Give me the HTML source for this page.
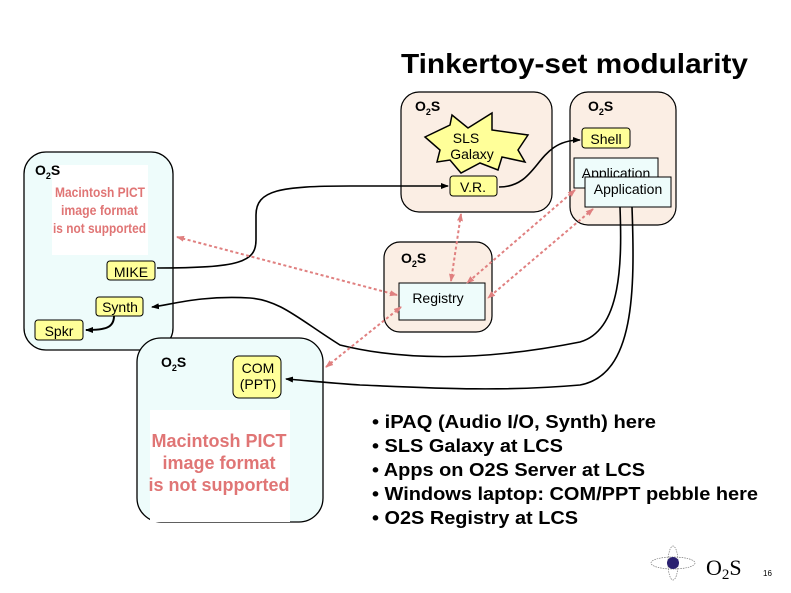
<!DOCTYPE html>
<html><head><meta charset="utf-8"><style>
body{margin:0;background:#fff;}
svg{display:block;font-family:"Liberation Sans",sans-serif;}
</style></head><body>
<svg width="791" height="593" viewBox="0 0 791 593" xmlns="http://www.w3.org/2000/svg">
<defs>
<marker id="a" markerWidth="8" markerHeight="8" refX="7" refY="4" orient="auto" markerUnits="userSpaceOnUse"><path d="M0,1 L8,4 L0,7 Z" fill="#000"/></marker>
<marker id="p" markerWidth="8" markerHeight="8" refX="7" refY="4" orient="auto-start-reverse" markerUnits="userSpaceOnUse"><path d="M0,1 L8,4 L0,7 Z" fill="#e08080"/></marker>
</defs>
<text x="401" y="73" font-size="28" font-weight="bold" textLength="347" lengthAdjust="spacingAndGlyphs">Tinkertoy-set modularity</text>

<rect x="24" y="152" width="149" height="198" rx="22" fill="#eefcfb" stroke="#000" stroke-width="1.3"/>
<rect x="52" y="165" width="96" height="90" fill="#fff"/>
<g font-size="14" font-weight="bold" fill="#e07575">
<text x="55" y="197" textLength="90" lengthAdjust="spacingAndGlyphs">Macintosh PICT</text>
<text x="61" y="215" textLength="77" lengthAdjust="spacingAndGlyphs">image format</text>
<text x="53" y="233" textLength="93" lengthAdjust="spacingAndGlyphs">is not supported</text>
</g>
<text x="35" y="175" font-size="14" font-weight="bold">O<tspan font-size="9" dy="4">2</tspan><tspan dy="-4">S</tspan></text>

<rect x="137" y="338" width="186" height="184" rx="24" fill="#eefcfb" stroke="#000" stroke-width="1.3"/>
<rect x="150" y="410" width="140" height="112" fill="#fff"/>
<text font-size="18" font-weight="bold" fill="#e07575" text-anchor="middle"><tspan x="219" y="447">Macintosh PICT</tspan><tspan x="219" y="469">image format</tspan><tspan x="219" y="491">is not supported</tspan></text>
<text x="161" y="367" font-size="14" font-weight="bold">O<tspan font-size="9" dy="4">2</tspan><tspan dy="-4">S</tspan></text>

<rect x="401" y="92" width="151" height="120" rx="18" fill="#fbeee4" stroke="#000" stroke-width="1.2"/>
<text x="415" y="111" font-size="14" font-weight="bold">O<tspan font-size="9" dy="4">2</tspan><tspan dy="-4">S</tspan></text>
<rect x="570" y="92" width="106" height="133" rx="18" fill="#fbeee4" stroke="#000" stroke-width="1.2"/>
<text x="588" y="111" font-size="14" font-weight="bold">O<tspan font-size="9" dy="4">2</tspan><tspan dy="-4">S</tspan></text>
<rect x="384" y="242" width="108" height="90" rx="16" fill="#fbeee4" stroke="#000" stroke-width="1.2"/>
<text x="401" y="263" font-size="14" font-weight="bold">O<tspan font-size="9" dy="4">2</tspan><tspan dy="-4">S</tspan></text>

<polygon points="425,137 450,125 452,115 468,128 492,113 492,130 528,135 518,150 525,162 502,157 498,170 480,163 461,173 450,160 437,162 440,150" fill="#ffff99" stroke="#000" stroke-width="1.5"/>
<text font-size="14" fill="#000" text-anchor="middle"><tspan x="466" y="143">SLS</tspan><tspan x="472" y="159">Galaxy</tspan></text>

<g font-size="14" text-anchor="middle">
<rect x="450" y="176" width="47" height="20" rx="3" fill="#ffff99" stroke="#000"/><text x="473" y="192">V.R.</text>
<rect x="582" y="128" width="48" height="20" rx="3" fill="#ffff99" stroke="#000"/><text x="606" y="144">Shell</text>
<rect x="107" y="261" width="48" height="19" rx="3" fill="#ffff99" stroke="#000"/><text x="131" y="277">MIKE</text>
<rect x="96" y="297" width="47" height="19" rx="3" fill="#ffff99" stroke="#000"/><text x="120" y="312">Synth</text>
<rect x="35" y="320" width="48" height="20" rx="3" fill="#ffff99" stroke="#000"/><text x="59" y="336">Spkr</text>
<rect x="233" y="356" width="48" height="42" rx="6" fill="#ffff99" stroke="#000"/><text x="258" y="373">COM</text><text x="258" y="389">(PPT)</text>
<rect x="574" y="158" width="84" height="30" fill="#eefcfb" stroke="#000"/><text x="616" y="178">Application</text>
<rect x="585" y="177" width="86" height="30" fill="#eefcfb" stroke="#000"/><text x="628" y="194">Application</text>
<rect x="399" y="283" width="86" height="37" fill="#eefcfb" stroke="#000"/><text x="438" y="303">Registry</text>
</g>

<g fill="none" stroke="#000" stroke-width="1.6">
<path d="M157,268 C240,268 256,262 256,240 L256,215 C256,190 280,186 350,186 L448,186" marker-end="url(#a)"/>
<path d="M499,187 C540,187 535,140 580,140" marker-end="url(#a)"/>
<path d="M114,316 C114,328 105,330 86,330" marker-end="url(#a)" stroke-width="2"/>
<path d="M620,207 C622,260 622,330 580,342 C480,362 400,360 340,345 C300,320 280,300 250,298 C200,295 170,305 152,307" marker-end="url(#a)"/>
<path d="M632,207 C635,290 635,375 580,385 C500,392 430,388 360,385 C330,383 300,380 286,379" marker-end="url(#a)"/>
</g>

<g fill="none" stroke="#e08080" stroke-width="2" stroke-dasharray="3,2.5" marker-start="url(#p)" marker-end="url(#p)">
<path d="M177,237 L397,295"/>
<path d="M461,214 L451,281"/>
<path d="M575,190 L467,283"/>
<path d="M593,209 L488,298"/>
<path d="M326,367 L401,307"/>
</g>

<g font-size="18" font-weight="bold">
<text x="372" y="428" textLength="284" lengthAdjust="spacingAndGlyphs">• iPAQ (Audio I/O, Synth) here</text>
<text x="372" y="452" textLength="191" lengthAdjust="spacingAndGlyphs">• SLS Galaxy at LCS</text>
<text x="372" y="476" textLength="273" lengthAdjust="spacingAndGlyphs">• Apps on O2S Server at LCS</text>
<text x="372" y="500" textLength="386" lengthAdjust="spacingAndGlyphs">• Windows laptop: COM/PPT pebble here</text>
<text x="372" y="524" textLength="206" lengthAdjust="spacingAndGlyphs">• O2S Registry at LCS</text>
</g>

<g fill="none" stroke="#777" stroke-width="0.7" stroke-dasharray="1.5,1">
<ellipse cx="673" cy="563" rx="22" ry="6"/><ellipse cx="673" cy="563" rx="5" ry="17"/>
</g>
<circle cx="673" cy="563" r="6" fill="#2a2070"/>
<text x="706" y="575" font-family="Liberation Serif,serif" font-size="22">O<tspan font-size="15" dy="4">2</tspan><tspan dy="-4">S</tspan></text>
<text x="763" y="576" font-size="8">16</text>
</svg>
</body></html>
